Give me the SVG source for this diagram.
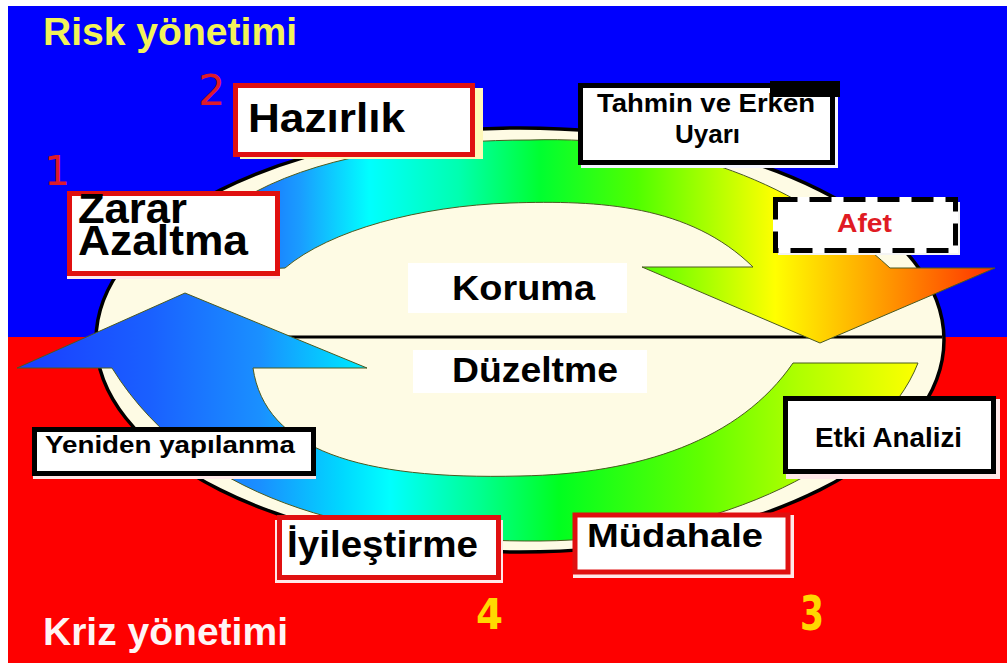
<svg xmlns="http://www.w3.org/2000/svg" width="1007" height="663" viewBox="0 0 1007 663">
<defs>
<style>
.t{font-family:"Liberation Sans",Arial,sans-serif;font-weight:bold;fill:#000}
.num{font-family:"DejaVu Sans",sans-serif}
.rb{fill:#fff;stroke:#e01010;stroke-width:5}
.kb{fill:#fff;stroke:#000;stroke-width:5}
.sh{fill:#ffe8e8}
.band{stroke:#4a5a20;stroke-width:1}
</style>
<linearGradient id="gTop" gradientUnits="userSpaceOnUse" x1="250" y1="0" x2="995" y2="0">
<stop offset="0" stop-color="#1a6cff"/>
<stop offset="0.067" stop-color="#1a9cff"/>
<stop offset="0.16" stop-color="#00ffff"/>
<stop offset="0.28" stop-color="#00ffb0"/>
<stop offset="0.39" stop-color="#00ff30"/>
<stop offset="0.52" stop-color="#50ff00"/>
<stop offset="0.705" stop-color="#ffff00"/>
<stop offset="0.82" stop-color="#ffb000"/>
<stop offset="1" stop-color="#ff3000"/>
</linearGradient>
<linearGradient id="gBot" gradientUnits="userSpaceOnUse" x1="17" y1="0" x2="920" y2="0">
<stop offset="0" stop-color="#1a3cff"/>
<stop offset="0.147" stop-color="#1a60ff"/>
<stop offset="0.27" stop-color="#1a90ff"/>
<stop offset="0.36" stop-color="#00d8ff"/>
<stop offset="0.413" stop-color="#00ffff"/>
<stop offset="0.513" stop-color="#00ff90"/>
<stop offset="0.6" stop-color="#00ff20"/>
<stop offset="0.756" stop-color="#60ff00"/>
<stop offset="0.867" stop-color="#b0ff00"/>
<stop offset="1" stop-color="#ffff00"/>
</linearGradient>
</defs>
<rect width="1007" height="663" fill="#fff"/>
<rect x="8" y="6" width="999" height="332" fill="#0000fe"/>
<rect x="8" y="337" width="999" height="326" fill="#fe0000"/>
<g id="cycle">
<ellipse cx="520" cy="340" rx="424" ry="212" fill="#fefbe4" stroke="#000" stroke-width="3.5"/>
<line x1="150" y1="337" x2="942" y2="337" stroke="#000" stroke-width="3"/>
</g>
<g id="connectors">
<path class="band" fill="url(#gTop)" d="M255,192 C330,152 440,140 530,140 C680,135 800,185 890,268 L995,268 L820,343 L642,267 L753,267 C690,205 600,200 510,203 C420,206 330,230 285,268 L240,270 Z"/>
<path class="band" fill="url(#gBot)" d="M17,368 L185,293 L367,368 L253,368 C265,450 360,480 520,476 C640,474 740,440 793,363 L918,363 C880,460 720,540 540,541 C380,542 200,510 112,368 Z"/>
</g>
<g id="koruma">
<rect x="408" y="263" width="219" height="50" fill="#fff"/>
<text class="t" x="452" y="300" font-size="35" textLength="143" lengthAdjust="spacingAndGlyphs">Koruma</text>
</g>
<g id="duzeltme">
<rect x="413" y="350" width="234" height="43" fill="#fff"/>
<text class="t" x="452" y="382" font-size="35" textLength="166" lengthAdjust="spacingAndGlyphs">Düzeltme</text>
</g>
<g id="hazirlik">
<rect x="240" y="88" width="243" height="71" fill="#fff8b8"/>
<rect class="rb" x="235.5" y="85.5" width="237" height="69" stroke-width="6"/>
<text class="t" x="248" y="132" font-size="41" textLength="157" lengthAdjust="spacingAndGlyphs">Hazırlık</text>
</g>
<g id="zarar">
<rect class="sh" x="67" y="196" width="213" height="83"/>
<rect class="rb" x="69.5" y="193.5" width="208" height="80"/>
<text class="t" x="78" y="223" font-size="42" textLength="109" lengthAdjust="spacingAndGlyphs">Zarar</text>
<text class="t" x="78" y="255" font-size="42" textLength="170" lengthAdjust="spacingAndGlyphs">Azaltma</text>
</g>
<g id="tahmin">
<rect x="581" y="88" width="257" height="80" fill="#f4f4ff"/>
<rect class="kb" x="580.5" y="85.5" width="252" height="77"/>
<rect x="770" y="81" width="70" height="16" fill="#000"/>
<text class="t" x="597" y="112" font-size="25" textLength="218" lengthAdjust="spacingAndGlyphs">Tahmin ve Erken</text>
<text class="t" x="675" y="143" font-size="25" textLength="65" lengthAdjust="spacingAndGlyphs">Uyarı</text>
<rect x="770" y="81" width="70" height="16" fill="#000"/>
</g>
<g id="afet">
<rect x="778" y="202" width="182" height="53" fill="#f4f4f4"/>
<rect x="775.5" y="199.5" width="180" height="51" fill="#fff" stroke="#fff" stroke-width="5"/>
<rect x="775.5" y="199.5" width="180" height="51" fill="none" stroke="#000" stroke-width="5" stroke-dasharray="22 12"/>
<text class="t" x="837" y="232" font-size="26" textLength="55" lengthAdjust="spacingAndGlyphs" style="fill:#e01b24">Afet</text>
</g>
<g id="yeniden">
<rect class="sh" x="33" y="430" width="283" height="49"/>
<rect class="kb" x="34.5" y="429.5" width="279" height="44"/>
<text class="t" x="45" y="453" font-size="24" textLength="250" lengthAdjust="spacingAndGlyphs">Yeniden yapılanma</text>
</g>
<g id="etki">
<rect class="sh" x="786" y="399" width="214" height="80"/>
<rect class="kb" x="785.5" y="398.5" width="208" height="73" stroke-width="7"/>
<text class="t" x="815" y="447" font-size="27" textLength="147" lengthAdjust="spacingAndGlyphs">Etki Analizi</text>
</g>
<g id="iyilestirme">
<rect class="sh" x="275" y="520" width="228" height="63"/>
<rect class="rb" x="279.5" y="517.5" width="219" height="60"/>
<text class="t" x="287" y="557" font-size="37" textLength="191" lengthAdjust="spacingAndGlyphs">İyileştirme</text>
</g>
<g id="mudahale">
<rect class="sh" x="573" y="515" width="221" height="63"/>
<rect class="rb" x="575" y="515" width="213" height="57" stroke-width="6"/>
<text class="t" x="587" y="547" font-size="34" textLength="176" lengthAdjust="spacingAndGlyphs">Müdahale</text>
</g>
<g id="titles">
<text class="t" x="43" y="45" font-size="38" textLength="254" lengthAdjust="spacingAndGlyphs" style="fill:#f2f25a">Risk yönetimi</text>
<text class="t" x="43" y="645" font-size="38" textLength="245" lengthAdjust="spacingAndGlyphs" style="fill:#fff4f4">Kriz yönetimi</text>
</g>
<g id="numbers">
<text class="num" x="44" y="185" font-size="41" fill="#dd1a2a">1</text>
<text class="num" x="198" y="105" font-size="43" fill="#dd1a2a">2</text>
<text class="num" x="800" y="630" font-size="48" font-weight="bold" fill="#ffd800" textLength="24" lengthAdjust="spacingAndGlyphs">3</text>
<text class="num" x="476" y="629" font-size="43" font-weight="bold" fill="#ffd800" textLength="27" lengthAdjust="spacingAndGlyphs">4</text>
</g>
</svg>
